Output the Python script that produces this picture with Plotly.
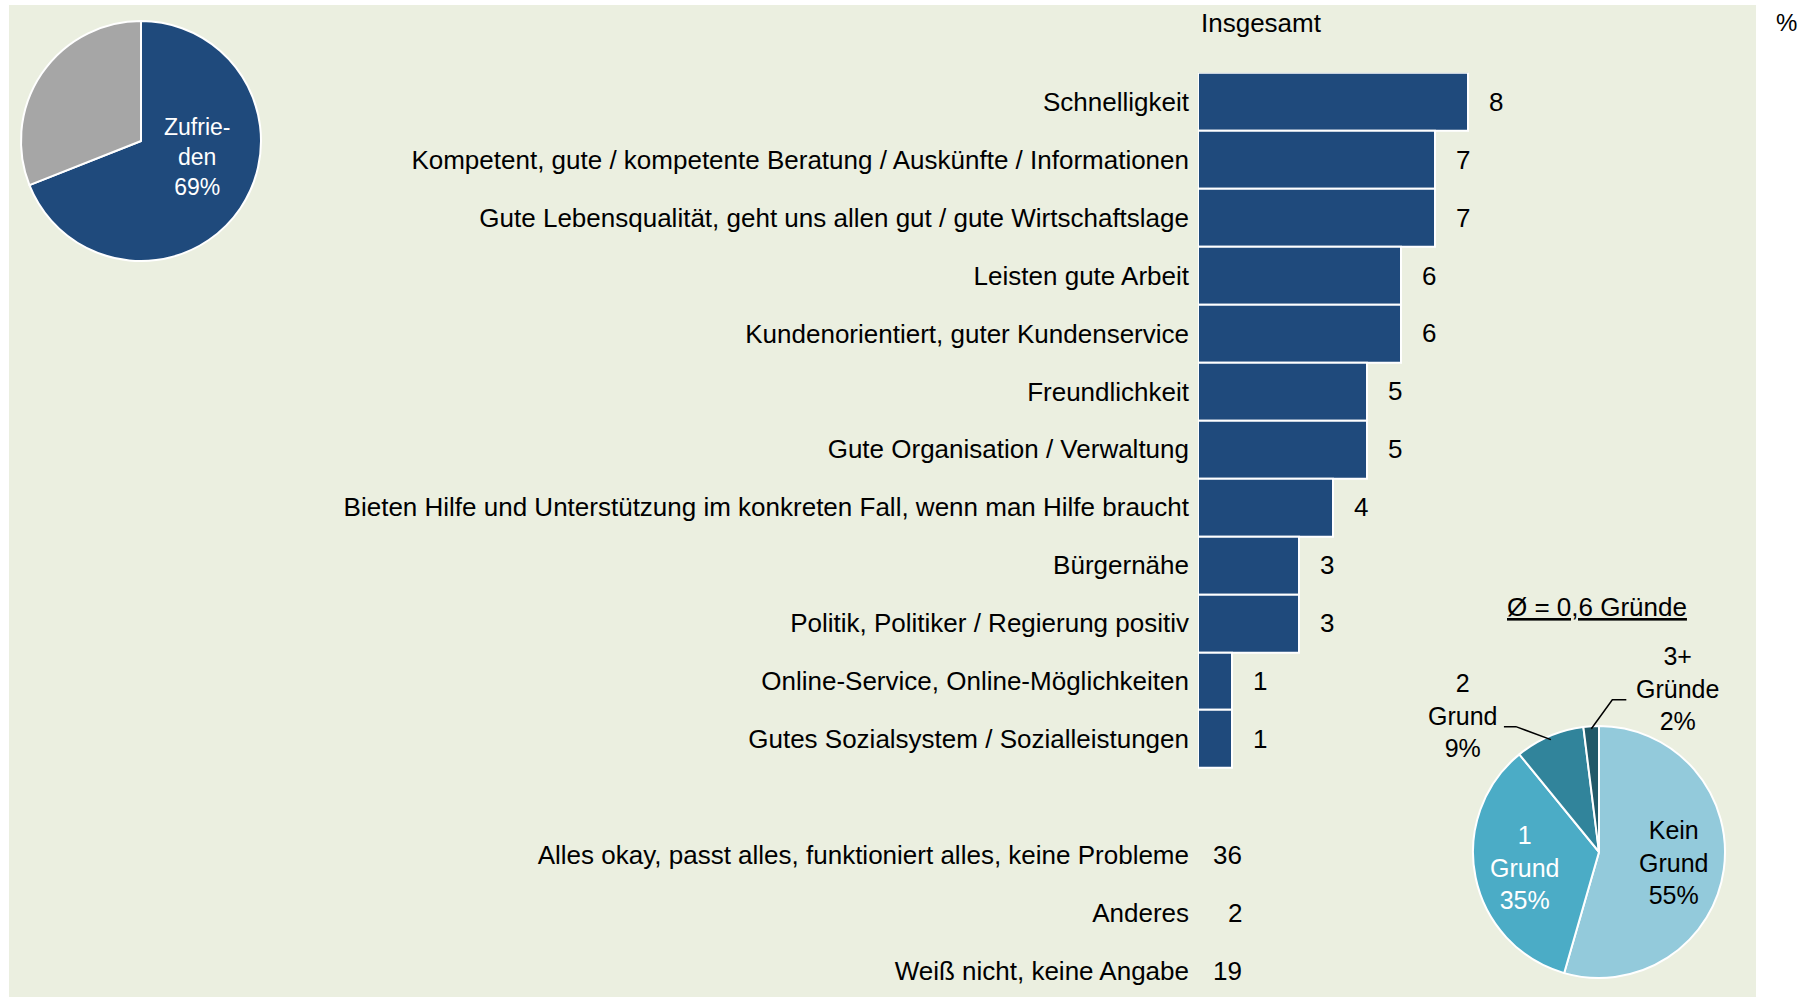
import math
import plotly.graph_objects as go

W, H = 1812, 997

# ---------------- data ----------------
reasons = [
    "Schnelligkeit",
    "Kompetent, gute / kompetente Beratung / Auskünfte / Informationen",
    "Gute Lebensqualität, geht uns allen gut / gute Wirtschaftslage",
    "Leisten gute Arbeit",
    "Kundenorientiert, guter Kundenservice",
    "Freundlichkeit",
    "Gute Organisation / Verwaltung",
    "Bieten Hilfe und Unterstützung im konkreten Fall, wenn man Hilfe braucht",
    "Bürgernähe",
    "Politik, Politiker / Regierung positiv",
    "Online-Service, Online-Möglichkeiten",
    "Gutes Sozialsystem / Sozialleistungen",
]
reason_values = [8, 7, 7, 6, 6, 5, 5, 4, 3, 3, 1, 1]

other_labels = [
    "Alles okay, passt alles, funktioniert alles, keine Probleme",
    "Anderes",
    "Weiß nicht, keine Angabe",
]
other_values = [36, 2, 19]

satisfied_labels = ["Zufrieden", "Nicht zufrieden"]
satisfied_values = [69, 31]

count_labels = ["Kein Grund", "1 Grund", "2 Grund", "3+ Gründe"]
count_values = [55, 35, 9, 2]
count_text = ["Kein<br>Grund", "1<br>Grund", "2<br>Grund", "3+<br>Gründe"]

title_text = "Insgesamt"
unit_text = "%"
mean_text = "Ø = 0,6 Gründe"

# ---------------- style ----------------
FONT = "Liberation Sans, Arial, sans-serif"
FS = 26
BAR_COLOR = "#1F4A7C"
PANEL = "#EBEFE0"
PIE1_COLORS = ["#1F4A7C", "#A6A6A6"]
PIE2_COLORS = ["#93CADB", "#4BACC6", "#31849B", "#215968"]


def px_x(x):
    return x / W


def px_y(y):
    return 1 - y / H


rows = reasons + [""] + other_labels
row_idx = list(range(len(rows)))
first_other = len(reasons) + 1

fig = go.Figure()

# bars
fig.add_trace(go.Bar(
    x=reason_values,
    y=row_idx[:len(reasons)],
    orientation="h",
    marker=dict(color=BAR_COLOR, line=dict(color="white", width=2)),
    hoverinfo="x+y",
    showlegend=False,
))

# pie 1 (top-left)
p1_cx, p1_cy, p1_r = 141, 141, 120
fig.add_trace(go.Pie(
    values=satisfied_values,
    labels=satisfied_labels,
    sort=False,
    direction="clockwise",
    rotation=0,
    marker=dict(colors=PIE1_COLORS, line=dict(color="white", width=2)),
    textinfo="none",
    domain=dict(x=[px_x(p1_cx - p1_r), px_x(p1_cx + p1_r)],
                y=[px_y(p1_cy + p1_r), px_y(p1_cy - p1_r)]),
    showlegend=False,
))

# pie 2 (bottom-right)
p2_cx, p2_cy, p2_r = 1599, 852, 126
fig.add_trace(go.Pie(
    values=count_values,
    labels=count_labels,
    sort=False,
    direction="clockwise",
    rotation=0,
    marker=dict(colors=PIE2_COLORS, line=dict(color="white", width=2)),
    textinfo="none",
    domain=dict(x=[px_x(p2_cx - p2_r), px_x(p2_cx + p2_r)],
                y=[px_y(p2_cy + p2_r), px_y(p2_cy - p2_r)]),
    showlegend=False,
))

annotations = []


def ann(**kw):
    base = dict(showarrow=False, xanchor="center", yanchor="middle", align="center")
    base.update(kw)
    annotations.append(base)


# values right of bars
for i, v in enumerate(reason_values):
    ann(x=v, y=i, xref="x", yref="y", text=str(v), xanchor="left", xshift=19,
        font=dict(size=FS, color="black", family=FONT))
# values of the text-only rows
for j, v in enumerate(other_values):
    ann(x=0, y=first_other + j, xref="x", yref="y", text=str(v), xanchor="right", xshift=46,
        font=dict(size=FS, color="black", family=FONT))

ann(x=px_x(1199), y=px_y(23), xref="paper", yref="paper", text=title_text, xanchor="left",
    font=dict(size=FS, color="black", family=FONT))
ann(x=px_x(1786), y=px_y(23), xref="paper", yref="paper", text=unit_text,
    font=dict(size=24, color="black", family=FONT))

# pie 1 label
ann(x=px_x(197), y=px_y(157), xref="paper", yref="paper",
    text=f"Zufrie-<br>den<br>{satisfied_values[0]}%",
    font=dict(size=23, color="white", family=FONT))

# pie 2 title
ann(x=px_x(1597), y=px_y(607), xref="paper", yref="paper",
    text=f"<u>{mean_text}</u>", font=dict(size=FS, color="black", family=FONT))


def slice_point(values, idx, cx, cy, r, frac):
    total = sum(values)
    start = sum(values[:idx])
    ang = (start + values[idx] / 2) / total * 2 * math.pi
    return cx + frac * r * math.sin(ang), cy - frac * r * math.cos(ang)


# inside labels
for idx, col in [(0, "black"), (1, "white")]:
    lx, ly = slice_point(count_values, idx, p2_cx, p2_cy, p2_r, 0.6)
    ann(x=px_x(lx), y=px_y(ly), xref="paper", yref="paper",
        text=f"{count_text[idx]}<br>{count_values[idx]}%",
        font=dict(size=25, color=col, family=FONT))

# outside labels
outside = [(2, 1462, 715), (3, 1677, 688)]
for idx, lx, ly in outside:
    ann(x=px_x(lx), y=px_y(ly), xref="paper", yref="paper",
        text=f"{count_text[idx]}<br>{count_values[idx]}%",
        font=dict(size=25, color="black", family=FONT))

shapes = [dict(type="rect", xref="paper", yref="paper", layer="below",
               x0=px_x(9), x1=px_x(1756), y0=px_y(997), y1=px_y(5),
               fillcolor=PANEL, line=dict(width=0))]

# leader lines
ex, ey = slice_point(count_values, 2, p2_cx, p2_cy, p2_r, 0.97)
pts = [(ex, ey), (ex - 35, ey - 13), (ex - 47, ey - 13)]
shapes.append(dict(type="path", xref="paper", yref="paper",
                   path="M " + " L ".join(f"{px_x(a)},{px_y(b)}" for a, b in pts),
                   line=dict(color="black", width=1.5)))
ex, ey = slice_point(count_values, 3, p2_cx, p2_cy, p2_r, 0.98)
pts = [(ex, ey), (ex + 21, ey - 29), (ex + 35, ey - 29)]
shapes.append(dict(type="path", xref="paper", yref="paper",
                   path="M " + " L ".join(f"{px_x(a)},{px_y(b)}" for a, b in pts),
                   line=dict(color="black", width=1.5)))

fig.update_layout(
    width=W, height=H,
    margin=dict(l=0, r=0, t=0, b=0),
    paper_bgcolor="white",
    plot_bgcolor="rgba(0,0,0,0)",
    bargap=0,
    font=dict(family=FONT, size=FS, color="black"),
    xaxis=dict(domain=[px_x(1198), 0.9], range=[0, (0.9 * W - 1198) / 33.8],
               showgrid=False, zeroline=False, showticklabels=False, showline=False,
               fixedrange=True),
    yaxis=dict(domain=[0, px_y(72.7)], range=[15.45, -0.5],
               tickmode="array", tickvals=row_idx, ticktext=rows,
               showgrid=False, zeroline=False, showline=False,
               ticks="", ticklabelstandoff=8,
               tickfont=dict(size=FS, color="black", family=FONT),
               fixedrange=True),
    annotations=annotations,
    shapes=shapes,
)

fig.write_html("out.html", config={"displayModeBar": False},
               post_script="document.body.style.margin='0';document.body.style.overflow='hidden';")
